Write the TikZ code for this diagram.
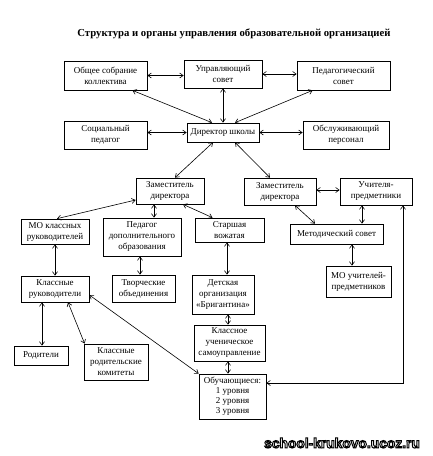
\documentclass[tikz,border=0pt]{standalone}
\usepackage{fontspec}
\setmainfont{Liberation Serif}
\newfontfamily\wmfont{Liberation Sans}
\usetikzlibrary{arrows.meta}
\newcommand\outlinedtext[1]{\textcolor{white}{\special{pdf:literal direct 0 G 1.0 w 2 Tr}#1\special{pdf:literal direct 0 Tr}}}
\begin{document}
\begin{tikzpicture}[x=1pt,y=-1pt,
  box/.style={draw=black,line width=0.7pt,inner sep=0pt,align=center,
    font=\fontsize{9}{11}\selectfont},
  con/.style={line width=0.6pt,{Straight Barb[length=3.5pt,width=5pt]}-{Straight Barb[length=3.5pt,width=5pt]}},
  wm/.style={font=\wmfont\bfseries\fontsize{13.8}{14}\selectfont,inner sep=0pt}]
\useasboundingbox[fill=white] (0,0) rectangle (432,456);
\node[font=\bfseries\fontsize{10.7}{13}\selectfont,inner sep=0pt] (title) at (234,34) {Структура и органы управления образовательной организацией};
% row 1
\node[box,minimum width=83pt,minimum height=29pt] (obs) at (105.5,75.5) {Общее собрание\\коллектива};
\node[box,minimum width=78pt,minimum height=28pt] (upr) at (223,74) {Управляющий\\совет};
\node[box,minimum width=93pt,minimum height=29pt] (ped) at (343.5,75.5) {Педагогический\\совет};
% row 2
\node[box,minimum width=83pt,minimum height=28pt] (soc) at (105.5,135) {Социальный\\педагог};
\node[box,minimum width=72pt,minimum height=19pt] (dir) at (223,132.5) {Директор школы};
\node[box,minimum width=86pt,minimum height=28pt] (obsl) at (346,135) {Обслуживающий\\персонал};
% row 3
\node[box,minimum width=68pt,minimum height=26pt] (zam1) at (170,191) {Заместитель\\директора};
\node[box,minimum width=72pt,minimum height=27pt] (zam2) at (280,191.5) {Заместитель\\директора};
\node[box,minimum width=72pt,minimum height=27pt] (uch) at (376,191.5) {Учителя-\\предметники};
% row 4
\node[box,minimum width=68pt,minimum height=25pt] (mok) at (55,231.5) {МО классных\\руководителей};
\node[box,minimum width=78pt,minimum height=38pt] (pdo) at (142,237) {Педагог\\дополнительного\\образования};
\node[box,minimum width=69pt,minimum height=24pt] (sv) at (229.5,230) {Старшая\\вожатая};
\node[box,minimum width=93pt,minimum height=20pt] (met) at (336.5,234) {Методический совет};
\node[box,minimum width=65pt,minimum height=31pt] (mou) at (358.5,281.5) {МО учителей-\\предметников};
% row 5
\node[box,minimum width=68pt,minimum height=26pt] (kr) at (55,289) {Классные\\руководители};
\node[box,minimum width=63pt,minimum height=27pt] (tvo) at (143.5,288.5) {Творческие\\объединения};
\node[box,minimum width=62pt,minimum height=39pt] (det) at (223,294.5) {Детская\\организация\\«Бригантина»};
% row 6
\node[box,minimum width=71pt,minimum height=36pt] (kus) at (229.5,343) {Классное\\ученическое\\самоуправление};
\node[box,minimum width=54pt,minimum height=19pt] (rod) at (41,355.5) {Родители};
\node[box,minimum width=64pt,minimum height=36pt] (krk) at (116,362) {Классные\\родительские\\комитеты};
\node[box,minimum width=67pt,minimum height=45pt,font=\fontsize{9}{10}\selectfont] (obu) at (232.5,396.5) {Обучающиеся:\\1 уровня\\2 уровня\\3 уровня};
% connectors
\draw[con] (obs.east) -- (obs.east -| upr.west);
\draw[con] (upr.east) -- (upr.east -| ped.west);
\draw[con] ([xshift=-15pt]obs.south east) -- ([xshift=-11pt]dir.north);
\draw[con] (upr.south) -- (dir.north);
\draw[con] ([xshift=16pt]ped.south west) -- ([xshift=12pt]dir.north);
\draw[con] (dir.west -| soc.east) -- (dir.west);
\draw[con] (dir.east) -- (dir.east -| obsl.west);
\draw[con] ([xshift=-10pt]dir.south) -- ([xshift=5pt]zam1.north);
\draw[con] ([xshift=12pt]dir.south) -- ([xshift=-10pt]zam2.north);
\draw[con] ([yshift=1.5pt]zam2.east) -- ([yshift=1.5pt]zam2.east -| uch.west);
\draw[con] ([yshift=-9pt]zam1.west) -- ([xshift=2pt]mok.north);
\draw[con] ([xshift=-16pt]zam1.south) -- ([xshift=-16pt]zam1.south |- pdo.north);
\draw[con] ([xshift=13pt]zam1.south) -- ([xshift=-17pt]sv.north);
\draw[con] ([xshift=15pt]zam2.south) -- ([xshift=-21.5pt]met.north);
\draw[con] ([xshift=-14pt]uch.south) -- ([xshift=-14pt]uch.south |- met.north);
\draw[con] ([xshift=-6.5pt]mou.north |- met.south) -- ([xshift=-6.5pt]mou.north);
\draw[con] ([xshift=27pt]uch.south) |- ([yshift=13.5pt]obu.east);
\draw[con] (mok.south) -- (kr.north);
\draw[con] ([xshift=-2pt]pdo.south) -- ([xshift=-2pt]pdo.south |- tvo.north);
\draw[con] ([xshift=-2.5pt]sv.south) -- ([xshift=-2.5pt]sv.south |- det.north);
\draw[con] ([xshift=5pt]det.south) -- ([xshift=5pt]det.south |- kus.north);
\draw[con] ([xshift=-1.5pt]kus.south) -- ([xshift=-1.5pt]kus.south |- obu.north);
\draw[con] ([xshift=-13pt]kr.south) -- ([xshift=-13pt]kr.south |- rod.north);
\draw[con] ([xshift=13pt]kr.south) -- ([xshift=1pt]krk.north west);
\draw[con] ([yshift=-6pt]kr.east) -- (obu.north west);
% watermark
\node[wm] (wm) at (342,443) {\outlinedtext{school-krukovo.ucoz.ru}};
\end{tikzpicture}
\end{document}
